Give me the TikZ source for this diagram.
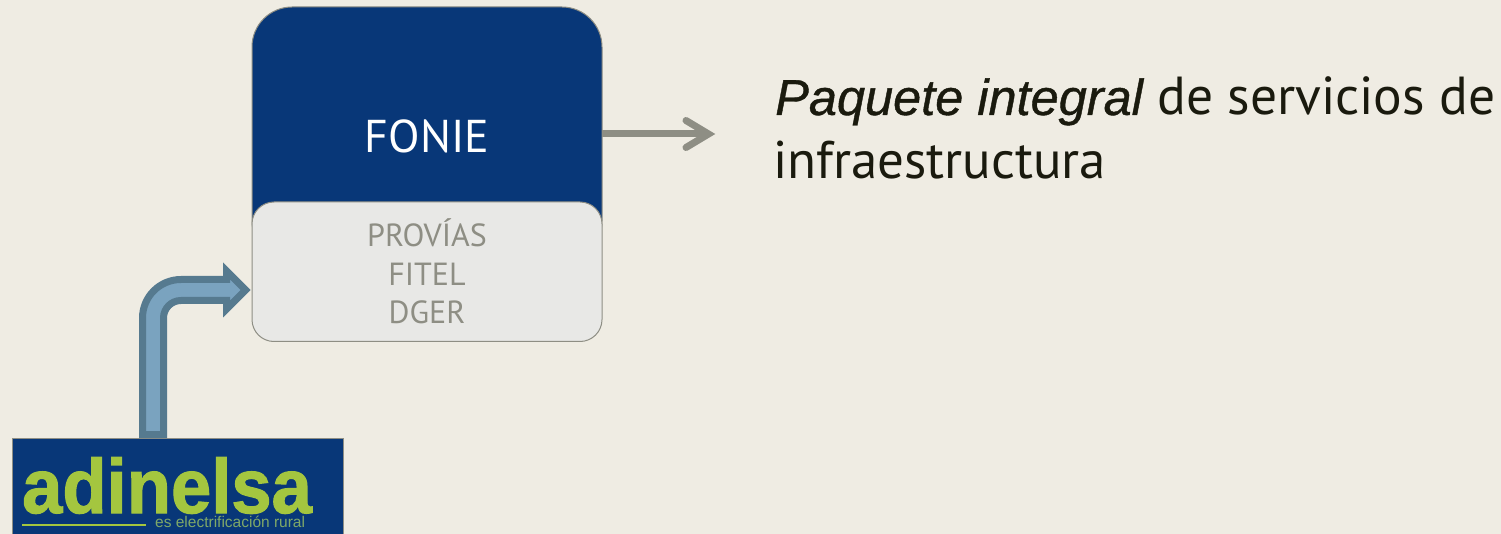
\documentclass[tikz,border=0pt]{standalone}
\usepackage{fontspec}
\setmainfont{PT Sans}
\newfontfamily\logofont{Liberation Sans}
\usetikzlibrary{arrows.meta}
\definecolor{bgc}{HTML}{EFECE3}
\definecolor{navy}{HTML}{083778}
\definecolor{lightg}{HTML}{E8E8E6}
\definecolor{greyc}{HTML}{8E8E84}
\definecolor{arrowd}{HTML}{567A8F}
\definecolor{arrowl}{HTML}{7AA3BF}
\definecolor{logog}{HTML}{A4C63F}
\definecolor{logot}{HTML}{7FA868}
\definecolor{inkc}{HTML}{1A1A0E}
\tikzset{
  lbl/.style={inner sep=0pt,align=center},
  boxline/.style={draw=greyc,line width=1pt,inner sep=0pt,outer sep=0pt},
}
\begin{document}
\begin{tikzpicture}[x=1pt,y=-1pt]
\useasboundingbox (0,0) rectangle (1501,534);
\fill[bgc] (0,0) rectangle (1501,534);
% boxes
\node[boxline,fill=navy,rounded corners=40pt,minimum width=350pt,minimum height=254pt] (bluebox) at (427,134) {};
\node[boxline,fill=lightg,rounded corners=22pt,minimum width=350pt,minimum height=139.5pt] (subbox) at (427,271.75) {};
\node[lbl,text=white,font=\fontsize{46}{46}\selectfont] (fonie) at (427,136) {FONIE};
\node[lbl,text=greyc,font=\fontsize{32}{38.5}\selectfont] (sub) at (427,271.5) {PROVÍAS\\FITEL\\DGER};
% logo
\fill[navy] (12,438.5) rectangle (343,534);
\draw[greyc,line width=.6pt] (12,534) -- (12,438.5) -- (343,438.5) -- (343,534);
\node[lbl,anchor=base west,text=logog,xscale=.94,font=\logofont\fontsize{77}{77}\selectfont\bfseries\addfontfeature{FakeBold=1.5}] (logo) at (22,513) {adinelsa};
\fill[logog] (22,523.5) rectangle (146,526);
\node[lbl,anchor=base west,text=logot,font=\logofont\fontsize{15.5}{15.5}\selectfont] (tag) at (155,527.5) {es electrificación rural};
% block arrow
\draw[arrowd,fill=arrowl,line width=7pt,miter limit=10]
  (142.5,434.5) -- (142.5,318) arc[start angle=180,end angle=270,radius=38.5] -- (226.5,279.5)
  -- (226.5,270.95) -- (245.55,290) -- (226.5,309.05) -- (226.5,300.5) -- (181,300.5)
  arc[start angle=270,end angle=180,radius=17.5] -- (163.5,434.5) -- cycle;
% output arrow
\coordinate (tip) at (708.5,134);
\draw[greyc,line width=7pt] (bluebox.east) -- (tip);
\draw[greyc,line width=7pt,line cap=round,line join=miter,miter limit=10] (686,120.5) -- (tip) -- (686,147.5);
% right text
\node[lbl,anchor=base west,align=left,text=inkc,font=\fontsize{53.5}{64}\selectfont] (txt) at (775,115) {{\logofont\itshape\fontsize{50.5}{64}\selectfont\addfontfeature{FakeBold=0.8}Paquete integral} de servicios de};
\node[lbl,anchor=base west,align=left,text=inkc,font=\fontsize{53}{64}\selectfont] (txtb) at (773,178.5) {infraestructura};
\end{tikzpicture}
\end{document}
